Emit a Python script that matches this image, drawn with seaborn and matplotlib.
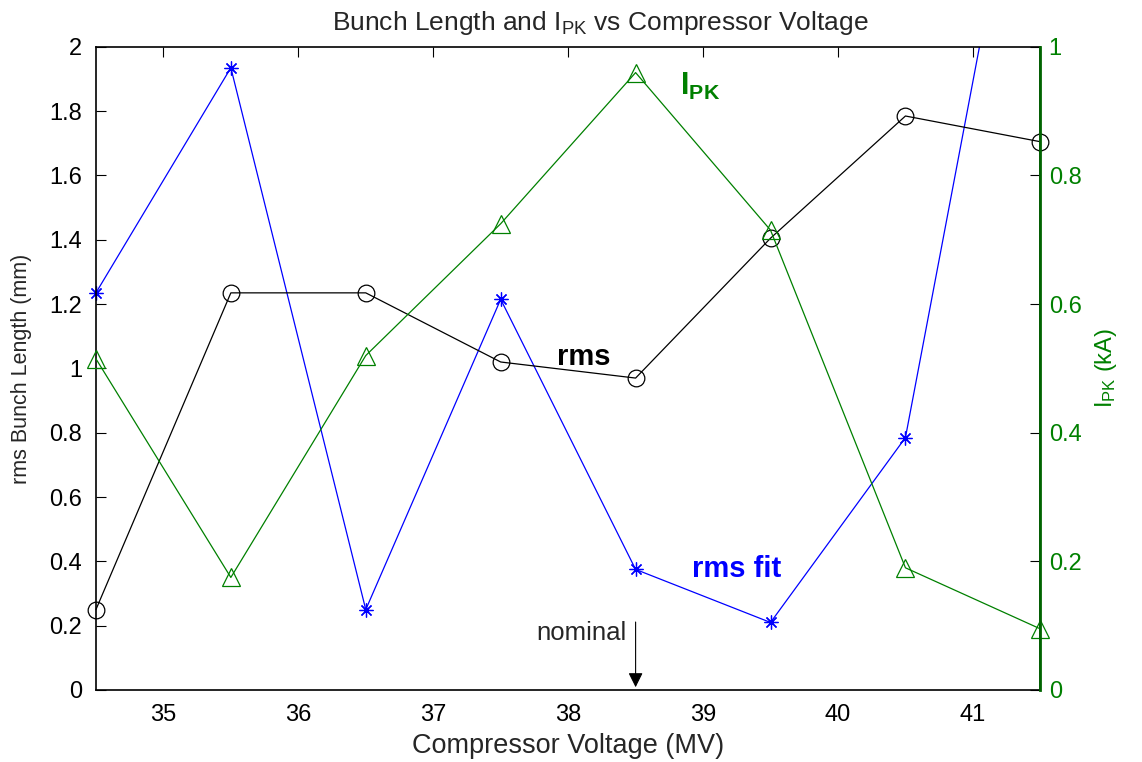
import numpy as np
import pandas as pd
import seaborn as sns
from matplotlib import pyplot as plt
from matplotlib.transforms import Bbox, TransformedBbox

# Data
voltage = [34.5, 35.5, 36.5, 37.5, 38.5, 39.5, 40.5, 41.5]
rms_len = [0.25, 1.235, 1.235, 1.02, 0.97, 1.405, 1.785, 1.705]
rms_fit = [1.235, 1.935, 0.25, 1.215, 0.375, 0.21, 0.785, 3.0]
i_pk = [0.515, 0.175, 0.52, 0.725, 0.96, 0.715, 0.19, 0.095]

x_ticks = [35, 36, 37, 38, 39, 40, 41]
left_ticks = [0, 0.2, 0.4, 0.6, 0.8, 1, 1.2, 1.4, 1.6, 1.8, 2]
right_ticks = [0, 0.2, 0.4, 0.6, 0.8, 1]

green = '#008000'

sns.set_theme(style='white')
plt.rcParams['font.family'] = ['Liberation Sans', 'DejaVu Sans']
plt.rcParams['mathtext.fontset'] = 'custom'
plt.rcParams['mathtext.rm'] = 'Liberation Sans'
plt.rcParams['mathtext.bf'] = 'Liberation Sans:bold'

df = pd.DataFrame({'voltage': voltage, 'rms': rms_len, 'fit': rms_fit, 'ipk': i_pk})

fig = plt.figure(figsize=(11.42, 7.62), dpi=100)
ax = fig.add_axes([0.084, 0.0945, 0.827, 0.844])

sns.lineplot(data=df, x='voltage', y='fit', ax=ax, color='blue', linewidth=0.9,
             marker=(8, 2, 0), markersize=10, markeredgecolor='blue', markeredgewidth=0.9)
sns.lineplot(data=df, x='voltage', y='rms', ax=ax, color='black', linewidth=0.9,
             marker='o', markersize=12, markerfacecolor='none', markeredgecolor='black',
             markeredgewidth=0.9)

ax2 = ax.twinx()
sns.lineplot(data=df, x='voltage', y='ipk', ax=ax2, color=green, linewidth=0.9,
             marker='^', markersize=13, markerfacecolor='none', markeredgecolor=green,
             markeredgewidth=0.9)

# markers at the axes edges are drawn whole
for line in ax.lines[1:] + ax2.lines:
    line.set_clip_on(False)
# the blue line is only cut at the top
ax.lines[0].set_clip_box(TransformedBbox(Bbox([[-0.05, -0.05], [1.05, 1.0]]), ax.transAxes))

ax.set_xlim(34.5, 41.5)
ax.set_ylim(0, 2)
ax2.set_ylim(0, 1)
ax.set_xticks(x_ticks)
ax.set_yticks(left_ticks)
ax.set_yticklabels([f'{t:g}' for t in left_ticks])
ax2.set_yticks(right_ticks)
ax2.set_yticklabels([f'{t:g}' for t in right_ticks])

ax.tick_params(axis='both', direction='in', length=7, width=0.8, labelsize=17,
               top=True, colors='black')
ax.tick_params(axis='x', pad=10)
ax.tick_params(axis='y', pad=10)
ax2.tick_params(axis='y', direction='in', length=7, width=0.8, labelsize=17,
                colors='black', labelcolor=green, pad=6)

for sp in ax.spines.values():
    sp.set_color('black')
    sp.set_linewidth(1.2)
ax2.spines['right'].set_color('#006400')
ax2.spines['right'].set_linewidth(2)
for s in ['left', 'top', 'bottom']:
    ax2.spines[s].set_visible(False)

ax.set_xlabel('Compressor Voltage (MV)', fontsize=19.5, labelpad=5)
ax.set_ylabel('rms Bunch Length (mm)', fontsize=15.5, labelpad=12)
ax2.set_ylabel(r'$\mathregular{I_{PK}}$ (kA)', fontsize=17, color=green, labelpad=8)
ax.set_title(r'Bunch Length and $\mathregular{I_{PK}}$ vs Compressor Voltage',
             fontsize=19, pad=12, x=0.534)

# Curve labels
ax.text(38.92, 0.35, 'rms fit', color='blue', fontsize=21, fontweight='bold')
ax.text(37.92, 1.01, 'rms', color='black', fontsize=21, fontweight='bold')
ax.text(38.83, 1.85, r'$\mathbf{I_{PK}}$', color=green, fontsize=22)

# Nominal marker
ax.annotate('', xy=(38.5, 0), xytext=(38.5, 0.22),
            arrowprops=dict(arrowstyle='-|>', color='black', lw=0.8, mutation_scale=22))
ax.text(38.43, 0.14, 'nominal', fontsize=18.5, ha='right', va='bottom')

ax.grid(False)
ax2.grid(False)

fig.savefig('out.png', dpi=100)
plt.close()
